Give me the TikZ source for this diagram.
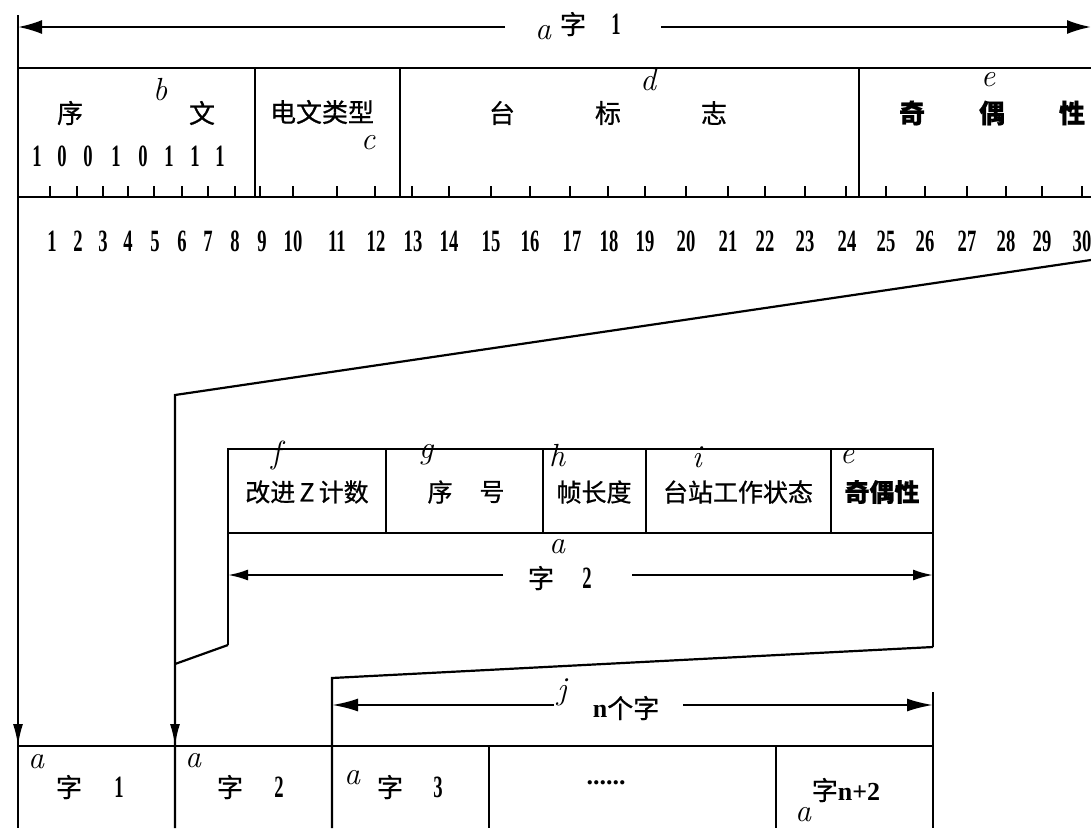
\documentclass[tikz,border=0pt]{standalone}
\usepackage{graphicx}
\usepackage{fontspec}
\newfontfamily\cjk[FakeBold=0.7]{Noto Sans CJK SC}
\newfontfamily\numf{Liberation Serif}
\usetikzlibrary{arrows.meta}
\newcommand\nd[1]{\scalebox{0.6}[1]{#1}}
\begin{document}
\begin{tikzpicture}[x=1pt,y=-1pt,line join=miter,
  box/.style={line width=2.4pt},
  conn/.style={line width=2.2pt},
  tick/.style={line width=1.8pt},
  bigtip/.style={-{Latex[length=24pt,width=14pt]}},
  midtip/.style={-{Latex[length=20pt,width=11pt]}},
  ntip/.style={-{Latex[length=26pt,width=13pt]}},
  vtip/.style={-{Latex[length=22pt,width=10pt]}},
  cj/.style={font=\cjk\fontsize{26}{26}\selectfont,inner sep=0pt},
  cjb/.style={font=\cjk\bfseries\fontsize{26}{26}\selectfont,inner sep=0pt},
  cjs/.style={font=\cjk\fontsize{25}{25}\selectfont,inner sep=0pt},
  hw/.style={font=\fontsize{32}{32}\selectfont\itshape,inner sep=0pt},
  num/.style={font=\numf\bfseries\fontsize{31}{31}\selectfont,inner sep=0pt},
  txt/.style={font=\numf\bfseries\fontsize{26}{26}\selectfont,inner sep=0pt}]
\clip (0,0) rectangle (1091,828);
\fill[white] (0,0) rectangle (1091,828);

% ---------- top dimension line ----------
\node[hw]  (a1)  at (543,33) {a};
\node[cj]  (z1)  at (573,24) {字};
\node[num] (zn1) at (616,24) {\nd{1}};
\coordinate (tl) at (18,27);
\coordinate (tla) at (505,27);
\coordinate (tra) at (661,27);
\coordinate (tr) at (1091,27);
\draw[conn,bigtip] (tla) -- (tl);
\draw[conn,bigtip] (tra) -- (tr);

% ---------- top box ----------
\coordinate (L0) at (18,15);
\coordinate (L1) at (18,828);
\draw[box] (L0) -- (L1);
\draw[box] (18,68) -- (1091,68);
\draw[box] (18,197) -- (1091,197);
\foreach \x in {255,400,859} \draw[box] (\x,68) -- (\x,197);
\foreach \x in {50,77,103,128,154,182,208,235,260,293,337,375,412,449,491,530,570,608,645,686,728,765,805,846,886,925,967,1006,1042,1082}
  \draw[tick] (\x,186) -- (\x,197);

\node[cj] (xu)  at (70,113) {序};
\node[hw] (lb)  at (160,90) {b};
\node[cj] (wen) at (202,113) {文};
\foreach \x/\d [count=\i] in {37/1,62/0,88/0,116/1,143/0,169/1,195/1,220/1}
  \node[num] (bit\i) at (\x,156) {\nd{\d}};
\node[cj] (dwlx) at (322,112) {电文类型};
\node[hw] (lc)   at (368,143) {c};
\node[cj] (tai)  at (502,113) {台};
\node[cj] (biao) at (608,113) {标};
\node[cj] (zhi)  at (714,113) {志};
\node[hw] (ld)   at (648,80) {d};
\node[cjb] (qi)  at (912,113) {奇};
\node[cjb] (ou)  at (992,113) {偶};
\node[cjb] (xing) at (1072,113) {性};
\node[hw]  (le)   at (988,80) {e};

\foreach \x [count=\i] in {52,78,103,128,155,182,208,235,262,293,337,376,413,449,491,530,572,609,645,686,728,765,805,847,886,925,967,1006,1042,1082}
  \node[num] (pos\i) at (\x,241) {\nd{\i}};

% ---------- connector from word 1 to word 2 ----------
\coordinate (d1) at (1091,260);
\coordinate (d2) at (175,395);
\coordinate (d3) at (175,828);
\draw[conn] (d1) -- (d2) -- (d3);

% ---------- word 2 box ----------
\coordinate (m1) at (228,645);
\coordinate (m2) at (228,449);
\coordinate (m3) at (933,449);
\coordinate (m4) at (933,647);
\coordinate (m5) at (175,664);
\coordinate (m6) at (332,678);
\coordinate (m7) at (332,828);
\draw[box] (m1) -- (m2) -- (m3) -- (m4);
\draw[box] (228,533) -- (933,533);
\foreach \x in {386,543,646,831} \draw[box] (\x,449) -- (\x,533);
\draw[conn] (m1) -- (m5);
\draw[conn] (m4) -- (m6) -- (m7);

\node[hw]  (lf) at (276,455) {f};
\node[cjs] (gj) at (307,492) {改进\,Z\,计数};
\node[hw]  (lg) at (426,455) {g};
\node[cjs] (xh1) at (440,492) {序};
\node[cjs] (xh2) at (492,492) {号};
\node[hw]  (lh) at (557,456) {h};
\node[cjs] (zcd) at (594,492) {帧长度};
\node[hw]  (li) at (697,457) {i};
\node[cjs] (tz) at (738,492) {台站工作状态};
\node[hw]  (le2) at (847,457) {e};
\node[cjb,font=\cjk\bfseries\fontsize{25}{25}\selectfont] (jox) at (882,492) {奇偶性};

\node[hw]  (a2)  at (557,547) {a};
\node[cj]  (z2)  at (541,578) {字};
\node[num] (zn2) at (587,578) {\nd{2}};
\coordinate (w2l) at (228,575);
\coordinate (w2la) at (503,575);
\coordinate (w2ra) at (632,575);
\coordinate (w2r) at (933,575);
\draw[conn,midtip] (w2la) -- (w2l);
\draw[conn,midtip] (w2ra) -- (w2r);

% ---------- n words ----------
\node[hw] (lj) at (562,692) {j};
\node[txt] (nz) at (626,708) {n\cjk\mdseries 个字};
\coordinate (nl) at (332,705);
\coordinate (nla) at (554,705);
\coordinate (nra) at (683,705);
\coordinate (nr) at (933,705);
\draw[conn,ntip] (nla) -- (nl);
\draw[conn,ntip] (nra) -- (nr);
\coordinate (r1) at (933,692);
\coordinate (r2) at (933,828);
\draw[box] (r1) -- (r2);

% ---------- bottom row ----------
\draw[box] (18,746) -- (933,746);
\foreach \x in {489,776} \draw[box] (\x,746) -- (\x,828);
\coordinate (v1a) at (18,700);
\coordinate (v1b) at (18,746);
\coordinate (v2a) at (175,700);
\coordinate (v2b) at (175,746);
\draw[conn,vtip] (v1a) -- (v1b);
\draw[conn,vtip] (v2a) -- (v2b);

\node[hw]  (b1a) at (36,762) {a};
\node[cj]  (b1z) at (69,787) {字};
\node[num] (b1n) at (119,787) {\nd{1}};
\node[hw]  (b2a) at (193,761) {a};
\node[cj]  (b2z) at (230,787) {字};
\node[num] (b2n) at (279,787) {\nd{2}};
\node[hw]  (b3a) at (352,778) {a};
\node[cj]  (b3z) at (390,787) {字};
\node[num] (b3n) at (438,787) {\nd{3}};
\node[txt] (dots) at (606,783) {......};
\node[txt] (bnz) at (846,790) {{\cjk\mdseries 字}n+2};
\node[hw]  (bna) at (803,815) {a};
\end{tikzpicture}
\end{document}
